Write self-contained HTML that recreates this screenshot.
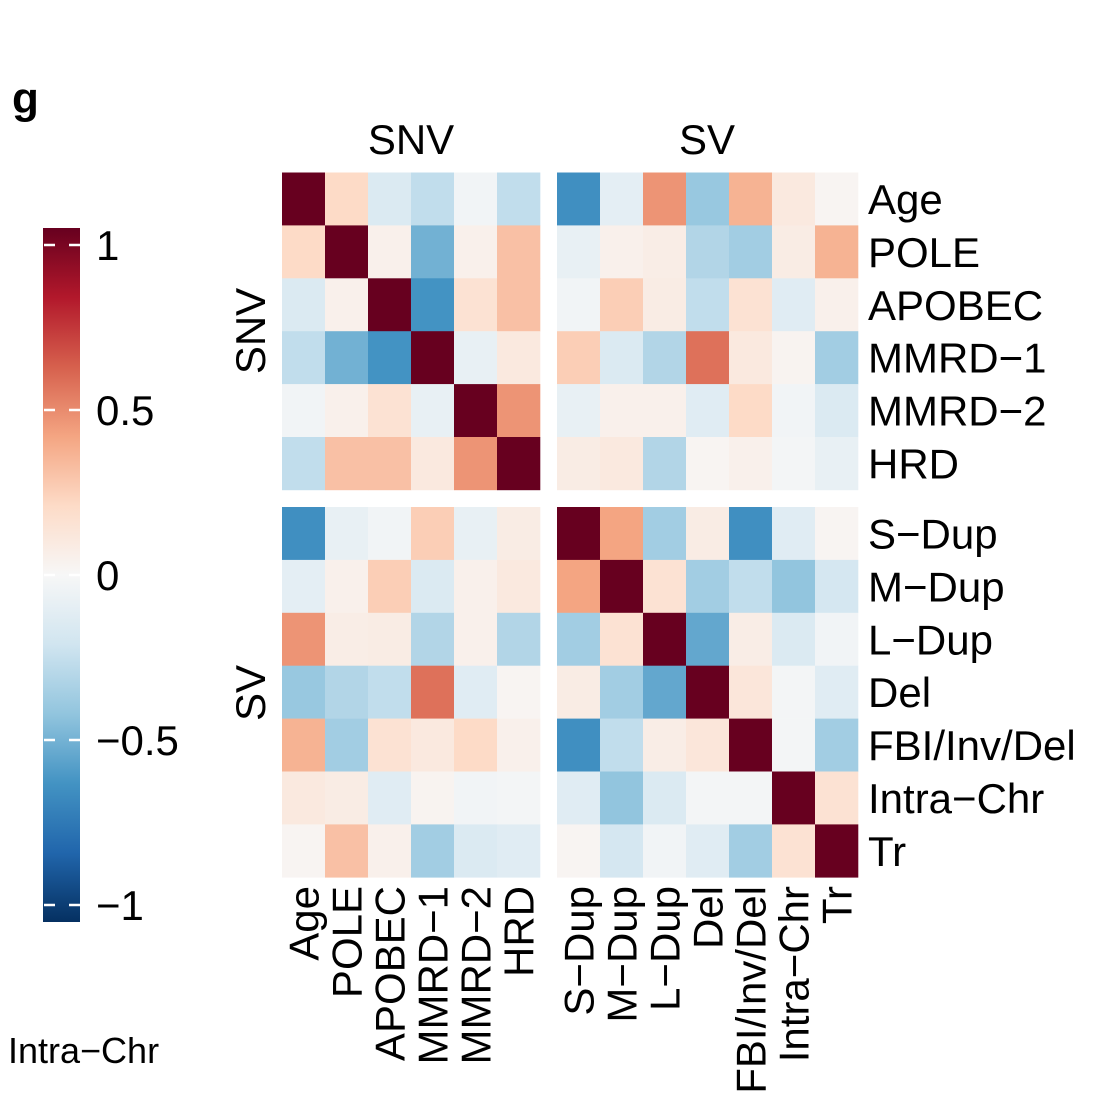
<!DOCTYPE html>
<html><head><meta charset="utf-8"><style>
html,body{margin:0;padding:0;background:#fff;}
svg text{font-family:"Liberation Sans",sans-serif;fill:#000;}
</style></head><body>
<svg id="chart" width="1102" height="1102" viewBox="0 0 1102 1102" xmlns="http://www.w3.org/2000/svg">
<defs>
<linearGradient id="cbgrad" x1="0" y1="1" x2="0" y2="0">
<stop offset="0" stop-color="#053061"/><stop offset="0.1" stop-color="#2166AC"/><stop offset="0.2" stop-color="#4393C3"/><stop offset="0.3" stop-color="#92C5DE"/><stop offset="0.4" stop-color="#D1E5F0"/><stop offset="0.5" stop-color="#F7F7F7"/><stop offset="0.6" stop-color="#FDDBC7"/><stop offset="0.7" stop-color="#F4A582"/><stop offset="0.8" stop-color="#D6604D"/><stop offset="0.9" stop-color="#B2182B"/><stop offset="1" stop-color="#67001F"/>
</linearGradient>
</defs>
<text x="12" y="113" font-size="44" font-weight="bold">g</text>
<text x="8" y="1063" font-size="36">Intra−Chr</text>
<rect x="43" y="228" width="37" height="694" fill="url(#cbgrad)"/>
<g id="cbticks"></g>
<g id="cells"></g>
<g id="labels"></g>
<text x="411" y="154" font-size="42" text-anchor="middle">SNV</text>
<text x="707" y="154" font-size="42" text-anchor="middle">SV</text>
<text transform="translate(265,331) rotate(-90)" font-size="42" text-anchor="middle">SNV</text>
<text transform="translate(265,693) rotate(-90)" font-size="42" text-anchor="middle">SV</text>
</svg>
<script>
const categories = ["Age","POLE","APOBEC","MMRD−1","MMRD−2","HRD","S−Dup","M−Dup","L−Dup","Del","FBI/Inv/Del","Intra−Chr","Tr"];
const rowAge    = [1,.2,-.15,-.25,-.03,-.25,-.62,-.1,.45,-.38,.35,.1,.02];
const rowPOLE   = [.2,1,.05,-.48,.05,.3,-.08,.05,.07,-.3,-.35,.08,.35];
const rowAPOBEC = [-.15,.05,1,-.6,.15,.3,-.03,.25,.08,-.25,.15,-.12,.05];
const rowMMRD1  = [-.25,-.48,-.6,1,-.08,.1,.25,-.15,-.3,.55,.1,.03,-.35];
const rowMMRD2  = [-.03,.05,.15,-.08,1,.45,-.08,.05,.05,-.12,.2,-.03,-.15];
const rowHRD    = [-.25,.3,.3,.1,.45,1,.08,.1,-.3,.02,.05,-.02,-.08];
const rowSDup   = [-.62,-.08,-.03,.25,-.08,.08,1,.4,-.35,.08,-.62,-.12,.02];
const rowMDup   = [-.1,.05,.25,-.15,.05,.1,.4,1,.15,-.35,-.25,-.4,-.18];
const rowLDup   = [.45,.07,.08,-.3,.05,-.3,-.35,.15,1,-.52,.07,-.15,-.03];
const rowDel    = [-.38,-.3,-.25,.55,-.12,.02,.08,-.35,-.52,1,.12,-.02,-.12];
const rowFBI    = [.35,-.35,.15,.1,.2,.05,-.62,-.25,.07,.12,1,-.02,-.35];
const rowIntra  = [.1,.08,-.12,.03,-.03,-.02,-.12,-.4,-.15,-.02,-.02,1,.15];
const rowTr     = [.02,.3,.05,-.35,-.15,-.12,.02,-.18,-.03,-.12,-.35,.15,1];
const matrix = [rowAge,rowPOLE,rowAPOBEC,rowMMRD1,rowMMRD2,rowHRD,rowSDup,rowMDup,rowLDup,rowDel,rowFBI,rowIntra,rowTr];
const colorbarTicks = [1,0.5,0,-0.5,-1];
const colorbarTickLabels = ["1","0.5","0","−0.5","−1"];

const NS="http://www.w3.org/2000/svg";
const pal=["#053061","#2166AC","#4393C3","#92C5DE","#D1E5F0","#F7F7F7","#FDDBC7","#F4A582","#D6604D","#B2182B","#67001F"];
function hex(h){return [1,3,5].map(i=>parseInt(h.substr(i,2),16));}
function color(v){
  let t=(Math.max(-1,Math.min(1,v))+1)/2*10;
  let i=Math.min(9,Math.floor(t)),f=t-i;
  const a=hex(pal[i]),b=hex(pal[i+1]);
  return "rgb("+a.map((c,k)=>Math.round(c+(b[k]-c)*f)).join(",")+")";
}
const cw=43, ch=52.9;
function xPos(j){return j<6?282+j*cw:557+(j-6)*cw;}
function yPos(i){return i<6?172.5+i*ch:507+(i-6)*ch;}
function cbY(v){return 575-v*330;}

const cells=document.getElementById("cells");
matrix.forEach((row,i)=>row.forEach((v,j)=>{
  const r=document.createElementNS(NS,"rect");
  r.setAttribute("x",xPos(j));r.setAttribute("y",yPos(i));
  r.setAttribute("width",cw+0.3);r.setAttribute("height",ch+0.3);
  r.setAttribute("fill",color(v));
  
  
  cells.appendChild(r);
}));

const labels=document.getElementById("labels");
categories.forEach((c,i)=>{
  const t=document.createElementNS(NS,"text");
  t.setAttribute("x",868);t.setAttribute("y",yPos(i)+ch/2+15);
  t.setAttribute("font-size","42");t.textContent=c;
  
  
  labels.appendChild(t);
  const u=document.createElementNS(NS,"text");
  const cx=xPos(i)+cw/2+15;
  u.setAttribute("transform","translate("+cx+",886) rotate(-90)");
  u.setAttribute("text-anchor","end");
  u.setAttribute("font-size","42");u.textContent=c;
  
  
  labels.appendChild(u);
});

const cbt=document.getElementById("cbticks");
colorbarTicks.forEach((v,k)=>{
  const y=cbY(v);
  [[44,55],[69,80]].forEach(([a,b])=>{
    const l=document.createElementNS(NS,"line");
    l.setAttribute("x1",a);l.setAttribute("x2",b);l.setAttribute("y1",y);l.setAttribute("y2",y);
    l.setAttribute("stroke","#fff");l.setAttribute("stroke-width","2.5");
    
    
    cbt.appendChild(l);
  });
  const t=document.createElementNS(NS,"text");
  t.setAttribute("x",96);t.setAttribute("y",y+15);t.setAttribute("font-size","42");
  t.textContent=colorbarTickLabels[k];
  
  
  cbt.appendChild(t);
});
</script>
</body></html>
